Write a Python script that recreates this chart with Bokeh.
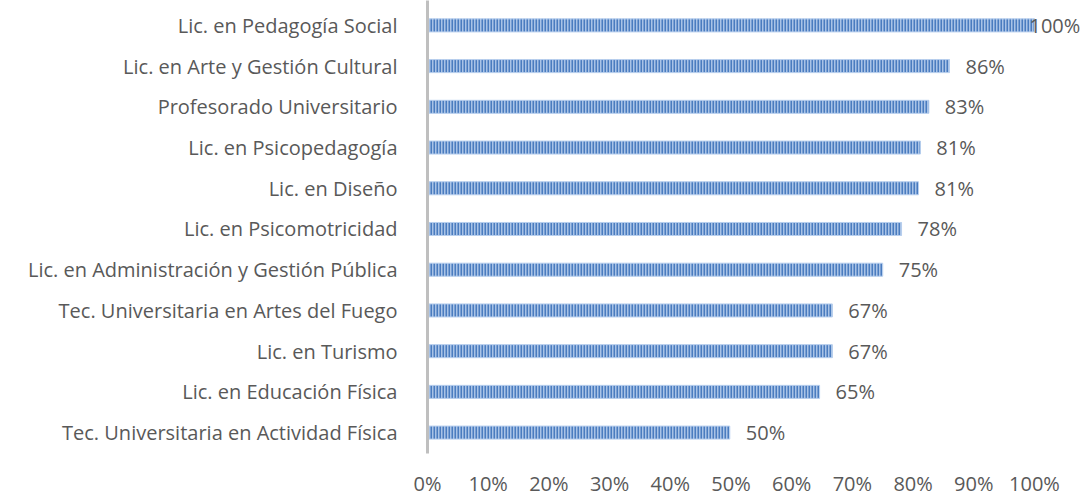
from bokeh.plotting import figure
from bokeh.models import ColumnDataSource, Range1d, FixedTicker
from bokeh.core.properties import value
from bokeh.embed import file_html
from bokeh.resources import INLINE

categories = [
    "Lic. en Pedagogía Social",
    "Lic. en Arte y Gestión Cultural",
    "Profesorado Universitario",
    "Lic. en Psicopedagogía",
    "Lic. en Diseño",
    "Lic. en Psicomotricidad",
    "Lic. en Administración y Gestión Pública",
    "Tec. Universitaria en Artes del Fuego",
    "Lic. en Turismo",
    "Lic. en Educación Física",
    "Tec. Universitaria en Actividad Física",
]
values = [100, 86, 82.6, 81.2, 80.9, 78.1, 75, 66.7, 66.7, 64.6, 49.8]
x_ticks = [0, 10, 20, 30, 40, 50, 60, 70, 80, 90, 100]

n = len(categories)
ypos = [n - 1 - i for i in range(n)]
labels = [f"{int(v + 0.5)}%" for v in values]
offsets = [16 if v < 95 else -5 for v in values]

src = ColumnDataSource(dict(y=ypos, v=values, lab=labels, off=offsets))

FONT = "Open Sans"
GRAY = "#595959"
FS = "20px"

p = figure(width=1088, height=499, output_backend="svg", toolbar_location=None,
           x_range=Range1d(0, 108.9), y_range=Range1d(-0.513, 10.611),
           min_border_left=427, min_border_right=0, min_border_top=0, min_border_bottom=44)
p.outline_line_color = None
p.grid.visible = False
p.background_fill_color = "white"

p.hbar(y="y", right="v", left=0, height=0.32, source=src,
       fill_color="#a9c3e6", line_color="#b8cfee", line_width=1,
       hatch_pattern="|", hatch_color="#4a7cbf", hatch_scale=3, hatch_weight=2)

p.text(x="v", y="y", text="lab", x_offset="off", source=src,
       text_align="left", text_baseline="middle",
       text_font=value(FONT), text_font_size=FS, text_color=GRAY)

# y axis with category names
p.yaxis.ticker = FixedTicker(ticks=ypos)
p.yaxis.major_label_overrides = {yy: c for yy, c in zip(ypos, categories)}
p.yaxis.major_tick_line_color = None
p.yaxis.minor_tick_line_color = None
p.yaxis.axis_line_color = "#bfbfbf"
p.yaxis.axis_line_width = 3
p.yaxis.major_label_standoff = 24
p.yaxis.major_label_text_font = FONT
p.yaxis.major_label_text_font_size = FS
p.yaxis.major_label_text_color = GRAY

p.xaxis.ticker = FixedTicker(ticks=x_ticks)
p.xaxis.major_label_overrides = {t: f"{t}%" for t in x_ticks}
p.xaxis.major_tick_line_color = None
p.xaxis.minor_tick_line_color = None
p.xaxis.axis_line_color = None
p.xaxis.major_label_standoff = 10
p.xaxis.major_label_text_font = FONT
p.xaxis.major_label_text_font_size = FS
p.xaxis.major_label_text_color = GRAY

open("out.html", "w").write(file_html(p, INLINE))
